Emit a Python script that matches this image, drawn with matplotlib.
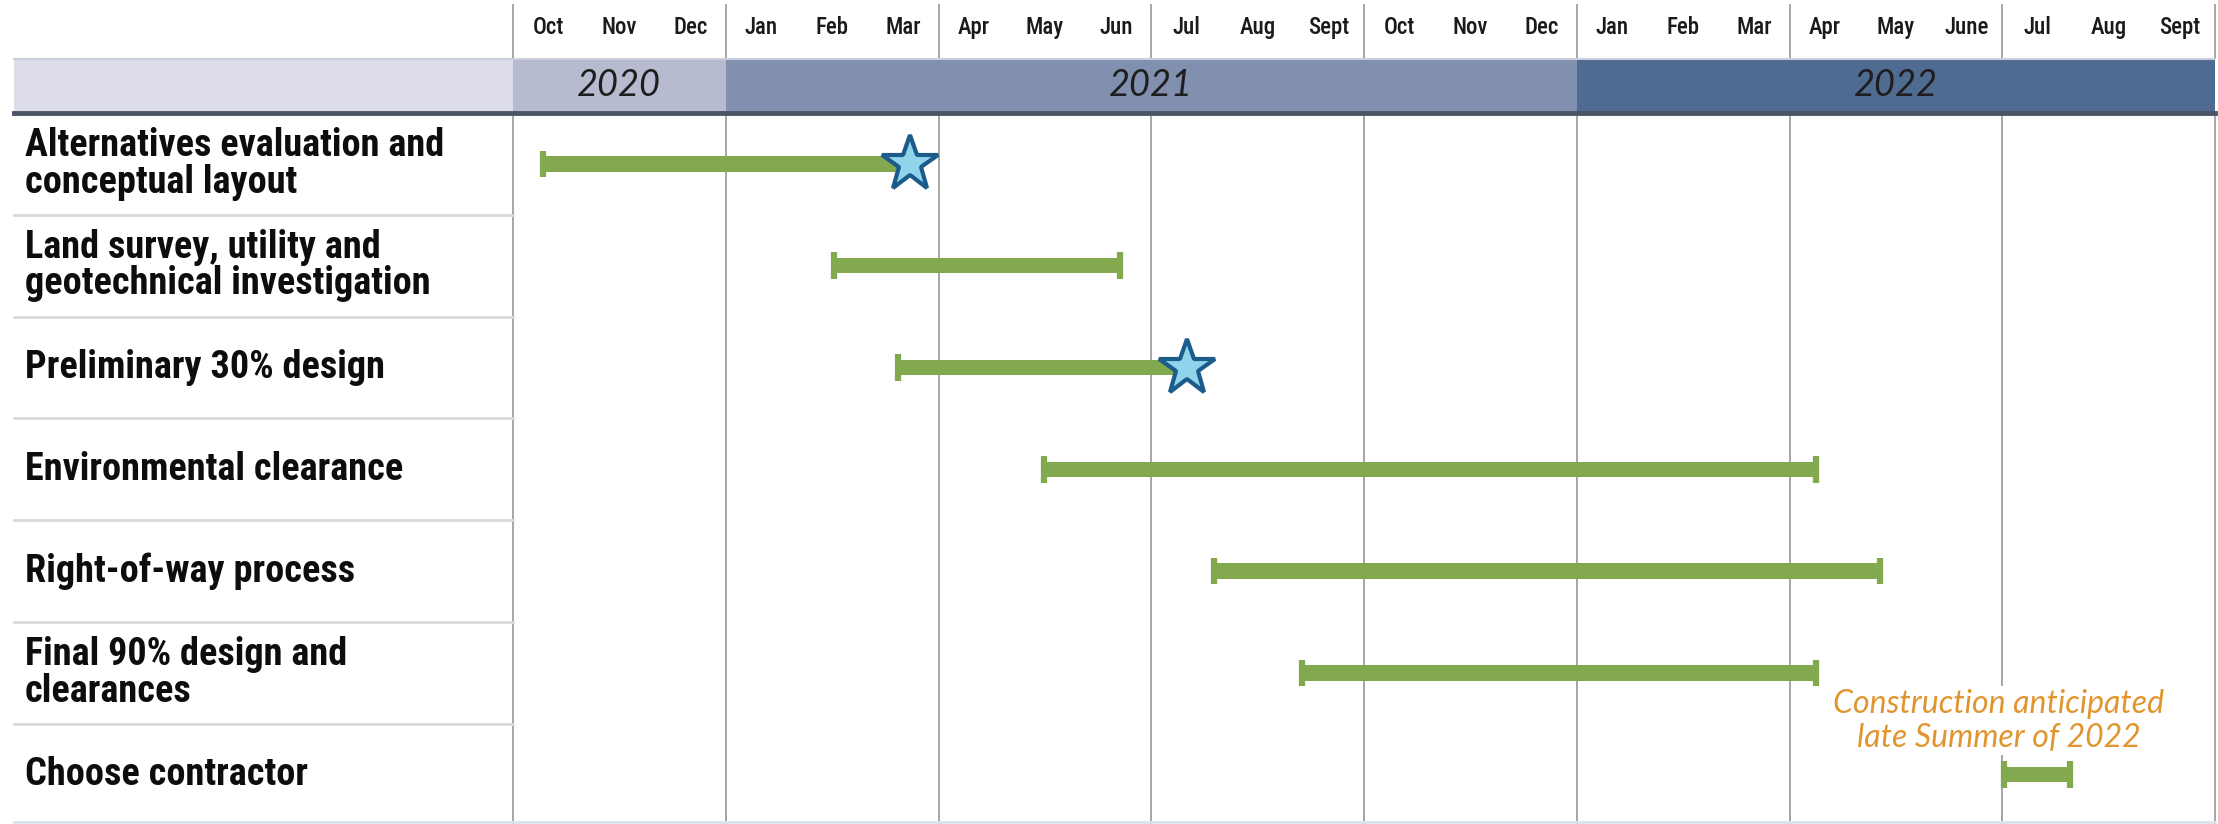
import matplotlib
matplotlib.use("Agg")
import matplotlib.pyplot as plt
from matplotlib import font_manager
from matplotlib.patches import Rectangle

# timeline in months counted from the start of Oct 2020
months = ["Oct", "Nov", "Dec", "Jan", "Feb", "Mar", "Apr", "May", "Jun", "Jul", "Aug", "Sept",
          "Oct", "Nov", "Dec", "Jan", "Feb", "Mar", "Apr", "May", "June", "Jul", "Aug", "Sept"]
years = ["2020", "2021", "2022"]
year_start = [0, 3, 15]
year_end = [3, 15, 24]

tasks = ["Alternatives evaluation and\nconceptual layout",
         "Land survey, utility and\ngeotechnical investigation",
         "Preliminary 30% design",
         "Environmental clearance",
         "Right-of-way process",
         "Final 90% design and\nclearances",
         "Choose contractor"]
task_start = [0.42, 4.53, 5.43, 7.49, 9.88, 11.12, 21.02]
task_end = [5.6, 8.56, 9.5, 18.38, 19.28, 18.38, 21.96]
milestone = [True, False, True, False, False, False, False]

note = "Construction anticipated\nlate Summer of 2022"

# pick a narrow font if one is there
names = {f.name for f in font_manager.fontManager.ttflist}
narrow = "DejaVu Sans"
for cand in ["Roboto Condensed", "Liberation Sans Narrow", "Open Sans Condensed"]:
    if cand in names:
        narrow = cand
        break

MW = 1702 / 24.0   # pixels per month
RH = 101.8         # pixels per row

fig = plt.figure(figsize=(22.18, 8.24), dpi=100)
ax = fig.add_axes([0, 0, 1, 1])
ax.set_xlim(-513 / MW, (2218 - 513) / MW)
ax.set_ylim((824 - 113) / RH, -113 / RH)
ax.axis("off")

left = -499 / MW
band_top = -54 / RH
bottom = (822 - 113) / RH

# header band
ax.add_patch(Rectangle((left, band_top), -left, -band_top, color="#dcdde9", lw=0))
band_cols = ["#b7bbcf", "#8090ae", "#506b92"]
for y0, y1, lab, c in zip(year_start, year_end, years, band_cols):
    ax.add_patch(Rectangle((y0, band_top), y1 - y0, -band_top, color=c, lw=0))
    ax.text((y0 + y1) / 2, band_top / 2, lab, ha="center", va="center",
            fontsize=26, style="italic", family="Lato", color="#1e1e1e")
ax.plot([left, 24], [band_top, band_top], color="#c9cfdc", lw=1.5)
ax.plot([left, 24], [0, 0], color="#4a5668", lw=3.5)
ax.plot([left, 24], [bottom, bottom], color="#dde3ea", lw=2)

# vertical grid lines (not through the year band)
for q in range(0, 25, 3):
    ax.plot([q, q], [-1.06, band_top], color="#a6a6a6", lw=1.4, zorder=1)
    ax.plot([q, q], [0.02, 7.1], color="#a6a6a6", lw=1.4, zorder=1)

# month labels
for i, m in enumerate(months):
    ax.text(i + 0.5, -0.84, m, ha="center", va="center", fontsize=16.5,
            family=narrow, weight="medium", color="#1a1a1a")

# row separators in the label column
for r in range(1, 7):
    ax.plot([left, 0], [r, r], color="#d9d9d9", lw=2)

# task labels
for r, t in enumerate(tasks):
    ax.text(-488 / MW, r + 0.5, t, ha="left", va="center", fontsize=27.5,
            weight="bold", family=narrow, color="#0d0d0d", linespacing=0.98)

# bars
green = "#83a94f"
ys = [r + 0.5 for r in range(len(tasks))]
ax.barh(ys, [e - s for s, e in zip(task_start, task_end)], left=task_start,
        height=0.15, color=green, zorder=3)
for y, s, e, ms in zip(ys, task_start, task_end, milestone):
    ax.plot([s, s], [y - 0.13, y + 0.13], color=green, lw=4.5, zorder=3,
            solid_capstyle="butt")
    if ms:
        ax.plot(e, y, marker="*", markersize=42, mfc="#90d4ec", mec="#1b5c8a",
                mew=3, zorder=4)
    else:
        ax.plot([e, e], [y - 0.13, y + 0.13], color=green, lw=4.5, zorder=3,
                solid_capstyle="butt")

ax.text(20.95, 5.97, note, ha="center", va="center", fontsize=23,
        style="italic", family="Lato", color="#e0952f", linespacing=1.15,
        zorder=5, bbox=dict(facecolor="white", edgecolor="none", pad=2))

fig.savefig("out.png", dpi=100)
